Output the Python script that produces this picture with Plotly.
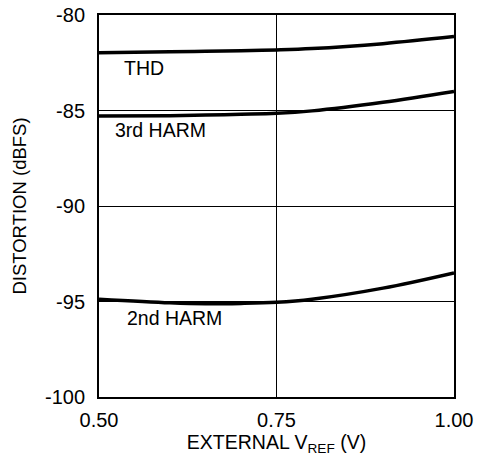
import plotly.graph_objects as go

vref = [0.50, 0.60, 0.65, 0.70, 0.75, 0.80, 0.90, 1.00]
thd = [-81.97, -81.93, -81.90, -81.87, -81.83, -81.76, -81.50, -81.13]
harm3 = [-85.29, -85.27, -85.24, -85.20, -85.15, -85.02, -84.57, -84.00]
harm2 = [-94.88, -95.07, -95.12, -95.10, -95.04, -94.88, -94.30, -93.50]

x_ticks = [0.50, 0.75, 1.00]
x_tick_labels = ["0.50", "0.75", "1.00"]
y_ticks = [-100, -95, -90, -85, -80]
y_tick_labels = ["-100", "-95", "-90", "-85", "-80"]

labels = ["THD", "3rd HARM", "2nd HARM"]
label_x = [0.532, 0.52, 0.537]
label_y = [-82.8, -86.0, -95.85]

FONT = "Liberation Sans, Arial"

fig = go.Figure()
for ys in (thd, harm3, harm2):
    fig.add_trace(go.Scatter(x=vref, y=ys, mode="lines",
                             line=dict(color="black", width=3.5, shape="spline"),
                             showlegend=False, hoverinfo="skip"))

for t, lx, ly in zip(labels, label_x, label_y):
    fig.add_annotation(x=lx, y=ly, text=t, showarrow=False, xanchor="left",
                       font=dict(size=19.5, color="black", family=FONT))

fig.update_layout(
    width=479, height=469,
    margin=dict(l=99, r=25, t=15, b=72, autoexpand=False),
    paper_bgcolor="white", plot_bgcolor="white",
    font=dict(family=FONT, size=20, color="black"),
    xaxis=dict(range=[0.5, 1.0], tickvals=x_ticks, ticktext=x_tick_labels,
               showgrid=True, gridcolor="black", gridwidth=1,
               showline=True, linecolor="black", linewidth=2, mirror=True,
               zeroline=False, ticks="", ticklen=0, ticklabelstandoff=4,
               tickfont=dict(size=20), automargin=False,
               title=dict(text="EXTERNAL V<sub>REF</sub> (V)", standoff=5,
                          font=dict(size=19.5))),
    yaxis=dict(range=[-100, -80], tickvals=y_ticks, ticktext=y_tick_labels,
               showgrid=True, gridcolor="black", gridwidth=1,
               showline=True, linecolor="black", linewidth=2, mirror=True,
               zeroline=False, ticks="", ticklen=0, ticklabelstandoff=8,
               tickfont=dict(size=20), automargin=False,
               title=dict(text="DISTORTION (dBFS)", standoff=13,
                          font=dict(size=18.5))),
)

fig.write_html("out.html")
